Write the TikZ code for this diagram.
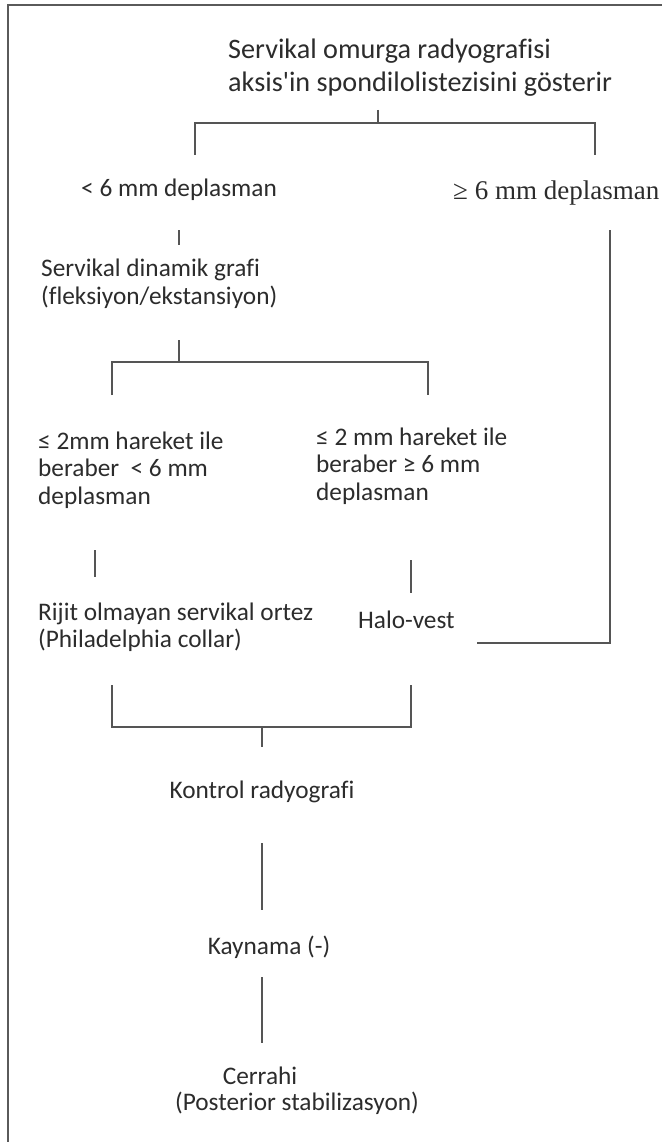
\documentclass[tikz,border=0pt]{standalone}
\usepackage{fontspec}
\setmainfont{Carlito}[Ligatures={NoCommon}]
\newfontfamily\serifb{Liberation Serif}
\definecolor{linegray}{HTML}{555555}
\definecolor{textgray}{HTML}{2C2C2C}
\definecolor{framegray}{HTML}{5A5A5A}
\begin{document}
\begin{tikzpicture}[x=1pt,y=-1pt,
  txt/.style={text=textgray, inner sep=0pt, font=\fontsize{25.3}{27.5}\selectfont, align=left},
  ttl/.style={txt, font=\fontsize{28.2}{33}\selectfont},
  serif/.style={txt, font=\serifb\fontsize{27}{30}\selectfont},
  ln/.style={draw=linegray, line width=1.8pt},
  frm/.style={draw=framegray, line width=2.4pt}
]
\useasboundingbox (0,0) rectangle (662,1142);
\fill[white] (0,0) rectangle (662,1142);
% frame
\coordinate (f1) at (8,1142);
\coordinate (f2) at (8,5);
\coordinate (f3) at (662,5);
\draw[frm] (f1) -- (f2) -- (f3);

% texts
\node[ttl, anchor=west] (title) at (228,68) {Servikal omurga radyografisi\\aksis\textquotesingle in spondilolistezisini gösterir};
\node[txt] (lt) at (179,190) {< 6 mm deplasman};
\node[serif, anchor=west] (ge) at (453,193) {≥ 6 mm deplasman};
\node[txt, anchor=west] (dyn) at (41,284) {Servikal dinamik grafi\\(fleksiyon/ekstansiyon)};
\node[txt, anchor=west] (lm) at (38,470) {≤ 2mm hareket ile\\beraber \ < 6 mm\\deplasman};
\node[txt, anchor=west] (rm) at (316,466) {≤ 2 mm hareket ile\\beraber ≥ 6 mm\\deplasman};
\node[txt, anchor=west] (rijit) at (38,627) {Rijit olmayan servikal ortez\\(Philadelphia collar)};
\node[txt, anchor=west] (halo) at (358,620) {Halo-vest};
\node[txt] (kontrol) at (262,792) {Kontrol radyografi};
\node[txt] (kaynama) at (269,947) {Kaynama (-)};
\node[txt] (cerrahi) at (260,1076) {Cerrahi};
\node[txt] (post) at (297,1103) {(Posterior stabilizasyon)};

% connector points
\coordinate (a0) at (378,110);
\coordinate (a1) at (378,123);
\coordinate (aL) at (195,123);
\coordinate (aR) at (595,123);
\coordinate (aL2) at (195,155);
\coordinate (aR2) at (595,155);
\coordinate (b0) at (179,230);
\coordinate (b1) at (179,245);
\coordinate (c0) at (179,340);
\coordinate (c1) at (179,362);
\coordinate (cL) at (112,362);
\coordinate (cR) at (428,362);
\coordinate (cL2) at (112,395);
\coordinate (cR2) at (428,395);
\coordinate (d0) at (95,550);
\coordinate (d1) at (95,577);
\coordinate (e0) at (411,560);
\coordinate (e1) at (411,593);
\coordinate (g0) at (610,230);
\coordinate (g1) at (610,643);
\coordinate (g2) at (477,643);
\coordinate (hL) at (112,685);
\coordinate (hL2) at (112,727);
\coordinate (hR2) at (411,727);
\coordinate (hR) at (411,685);
\coordinate (h0) at (262,727);
\coordinate (h1) at (262,747);
\coordinate (k0) at (262,843);
\coordinate (k1) at (262,910);
\coordinate (m0) at (262,977);
\coordinate (m1) at (262,1043);

% connectors
\draw[ln] (a0) -- (a1);
\draw[ln] (aL2) -- (aL) -- (aR) -- (aR2);
\draw[ln] (b0) -- (b1);
\draw[ln] (c0) -- (c1);
\draw[ln] (cL2) -- (cL) -- (cR) -- (cR2);
\draw[ln] (d0) -- (d1);
\draw[ln] (e0) -- (e1);
\draw[ln] (g0) -- (g1) -- (g2);
\draw[ln] (hL) -- (hL2) -- (hR2) -- (hR);
\draw[ln] (h0) -- (h1);
\draw[ln] (k0) -- (k1);
\draw[ln] (m0) -- (m1);
\end{tikzpicture}
\end{document}
